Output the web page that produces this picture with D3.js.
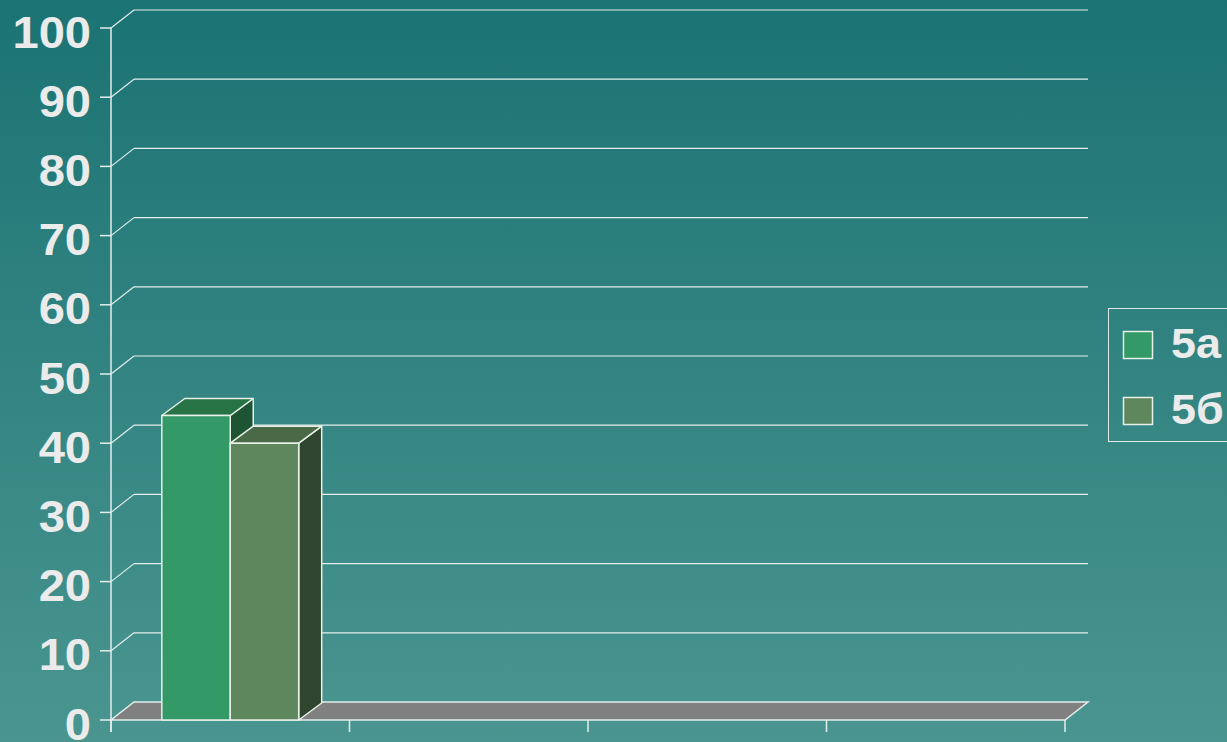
<!DOCTYPE html>
<html><head><meta charset="utf-8">
<script src="https://cdn.jsdelivr.net/npm/d3@7"></script>
<style>html,body{margin:0;padding:0;overflow:hidden;}svg{display:block;}</style>
</head><body>
<svg id="c" width="1227" height="742"></svg>
<script>
const categories = ["1", "2", "3", "4"];
const seriesNames = ["5а", "5б"];
const values5a = [44, null, null, null];
const values5b = [40, null, null, null];
const yTicks = [0, 10, 20, 30, 40, 50, 60, 70, 80, 90, 100];

const W = 1227, H = 742;
const svg = d3.select("#c");
const defs = svg.append("defs");
const bg = defs.append("linearGradient").attr("id", "bg").attr("x1", 0).attr("y1", 0).attr("x2", 0).attr("y2", 1);
bg.append("stop").attr("offset", "0%").attr("stop-color", "#1b7373");
bg.append("stop").attr("offset", "100%").attr("stop-color", "#4a9590");
svg.append("rect").attr("width", W).attr("height", H).attr("fill", "url(#bg)");

const x0 = 111, x1 = 1065, y0 = 720, yTop = 28;
const DX = 23, DY = -18;
const y = d3.scaleLinear().domain([0, 100]).range([y0, yTop]);
const x = d3.scaleBand().domain(categories).range([x0, x1]).padding(0);
const xs = d3.scaleBand().domain(seriesNames).range([x.bandwidth() * 0.213, x.bandwidth() * 0.787]).padding(0);

const lineCol = "#e4eeec";
const FONT = "Liberation Sans, Arial, sans-serif";
const g = svg.append("g");
yTicks.forEach(t => {
  if (t === 0) return;
  g.append("line").attr("x1", x0 + DX).attr("x2", x1 + DX).attr("y1", y(t) + DY).attr("y2", y(t) + DY)
    .attr("stroke", lineCol).attr("stroke-width", 1.2);
  g.append("line").attr("x1", x0).attr("x2", x0 + DX).attr("y1", y(t)).attr("y2", y(t) + DY)
    .attr("stroke", lineCol).attr("stroke-width", 1.2);
});

// floor
g.append("polygon")
  .attr("points", [[x0, y0], [x1, y0], [x1 + DX, y0 + DY], [x0 + DX, y0 + DY]].map(p => p.join(",")).join(" "))
  .attr("fill", "#808080").attr("stroke", lineCol).attr("stroke-width", 1.5);

// y axis
g.append("line").attr("x1", x0).attr("x2", x0).attr("y1", yTop).attr("y2", y0 + 12).attr("stroke", lineCol).attr("stroke-width", 1.5);
yTicks.forEach(t => {
  g.append("line").attr("x1", x0 - 11).attr("x2", x0).attr("y1", y(t)).attr("y2", y(t)).attr("stroke", lineCol).attr("stroke-width", 1.5);
  g.append("text").attr("transform", `translate(91,${y(t) + 19.5}) scale(1.07,1)`).attr("text-anchor", "end")
    .attr("font-family", FONT).attr("font-weight", "bold").attr("font-size", 44)
    .attr("fill", "#ebebeb").text(t);
});
// x ticks
[...categories.map(c => x(c)), x1].forEach(px => {
  g.append("line").attr("x1", px).attr("x2", px).attr("y1", y0).attr("y2", y0 + 12).attr("stroke", lineCol).attr("stroke-width", 1.5);
});

// bars
const colors = {
  "5а": { front: "#339966", top: "#277345", side: "#1d5434" },
  "5б": { front: "#5f875d", top: "#4a6a47", side: "#2f452e" }
};
const data = [];
categories.forEach((c, i) => {
  [["5а", values5a[i]], ["5б", values5b[i]]].forEach(([s, v]) => {
    if (v != null) data.push({ c, s, v });
  });
});
const bars = svg.append("g");
data.forEach(d => {
  const bx = x(d.c) + xs(d.s), bw = xs.bandwidth(), by = y(d.v), bb = y(0);
  const col = colors[d.s];
  const bdy = -17;
  const gb = bars.append("g").attr("stroke", "#e6f0e6").attr("stroke-width", 1.5).attr("stroke-linejoin", "round");
  gb.append("polygon").attr("points", [[bx + bw, by], [bx + bw + DX, by + bdy], [bx + bw + DX, bb + bdy], [bx + bw, bb]].map(p => p.join(",")).join(" ")).attr("fill", col.side);
  gb.append("polygon").attr("points", [[bx, by], [bx + DX, by + bdy], [bx + bw + DX, by + bdy], [bx + bw, by]].map(p => p.join(",")).join(" ")).attr("fill", col.top);
  gb.append("rect").attr("x", bx).attr("y", by).attr("width", bw).attr("height", bb - by).attr("fill", col.front);
});

// legend
const lg = svg.append("g");
lg.append("rect").attr("x", 1108.5).attr("y", 308.5).attr("width", 140).attr("height", 133).attr("fill", "none").attr("stroke", "#e0e8e8").attr("stroke-width", 1);
seriesNames.forEach((s, i) => {
  const ly = 331 + i * 66;
  lg.append("rect").attr("x", 1123.5).attr("y", ly + 0.5).attr("width", 29).attr("height", 27)
    .attr("fill", colors[s].front).attr("stroke", "#e6f0e6").attr("stroke-width", 1.5);
  lg.append("text").attr("transform", `translate(1171,${ly + 27}) scale(1.07,1)`).attr("font-family", FONT)
    .attr("font-weight", "bold").attr("font-size", 42).attr("fill", "#ebebeb").text(s);
});
</script>
</body></html>
